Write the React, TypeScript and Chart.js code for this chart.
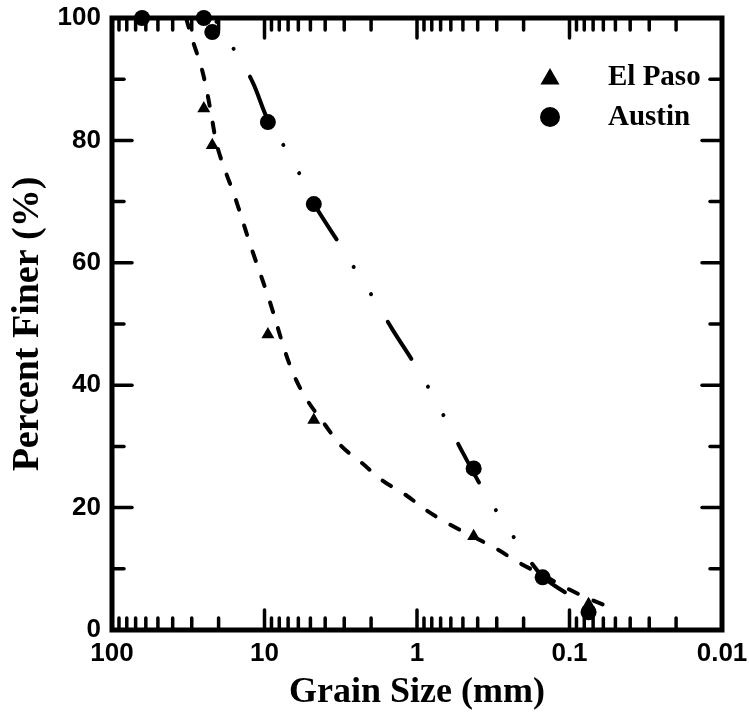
import React, { useEffect, useRef } from "react";
import { Chart, registerables } from "chart.js";

Chart.register(...registerables);

// Axis ticks
const X_TICKS = [100, 10, 1, 0.1, 0.01];
const Y_TICKS = [0, 20, 40, 60, 80, 100];
const Y_MINOR = [10, 30, 50, 70, 90];

// Sieve results: grain size (mm) and percent finer
const EL_PASO_SIZE = [25, 22, 9.5, 4.75, 0.425, 0.15, 0.075];
const EL_PASO_PCT = [85.2, 79.2, 48.3, 34.3, 15.3, 8.4, 4.2];
const AUSTIN_SIZE = [63.5, 25, 22, 9.5, 4.75, 0.425, 0.15, 0.075];
const AUSTIN_PCT = [100, 100, 97.7, 83.0, 69.6, 26.4, 8.6, 2.9];

// Fitted gradation curves
const EL_PASO_FIT_SIZE = [32.7, 29.4, 26.1, 23.8, 22.1, 20.5, 18.2, 15.8, 12.3, 9.3, 7.3, 6.3, 5.2, 4.0, 3.15, 2.3, 1.7, 1.16, 0.873, 0.617, 0.423, 0.294, 0.211, 0.145, 0.102, 0.0711, 0.0503];
const EL_PASO_FIT_PCT = [100, 96.1, 92.2, 87.9, 83.5, 79.2, 75.2, 71.1, 62.7, 53.9, 45.4, 41.2, 37.4, 33.5, 30.1, 27.3, 24.5, 21.9, 19.6, 17.3, 15.2, 13.1, 10.9, 8.8, 6.7, 4.9, 3.4];
const AUSTIN_FIT_SIZE = [21.4, 15.1, 11.9, 9.48, 7.05, 5.59, 4.73, 3.15, 2.44, 1.86, 1.44, 1.016, 0.798, 0.627, 0.499, 0.364, 0.281, 0.211, 0.149, 0.092, 0.063];
const AUSTIN_FIT_PCT = [100, 94.0, 89.4, 83.3, 78.1, 73.4, 69.6, 62.7, 58.2, 53.6, 49.0, 43.1, 38.6, 33.7, 28.9, 22.7, 18.3, 13.7, 8.7, 5.2, 2.9];

const pairs = (xs: number[], ys: number[]) => xs.map((x, i) => ({ x, y: ys[i] }));

const SANS = "'Liberation Sans', Arial, Helvetica, sans-serif";
const SERIF = "'Liberation Serif', 'Times New Roman', serif";

// Boxed frame with inward major/minor ticks on all four sides
const frameAndTicks = {
  id: "frameAndTicks",
  beforeDatasetsDraw(chart: any) {
    const { ctx, chartArea: a, scales } = chart;
    const xs = scales.x;
    const ys = scales.y;
    const MAJOR = 20;
    const MINOR = 12;
    const seg = (x1: number, y1: number, x2: number, y2: number) => {
      ctx.beginPath();
      ctx.moveTo(x1, y1);
      ctx.lineTo(x2, y2);
      ctx.stroke();
    };
    ctx.save();
    ctx.strokeStyle = "#000";
    ctx.lineCap = "round";
    ctx.lineWidth = 3.5;
    for (let e = -2; e <= 1; e++) {
      for (let m = 2; m <= 9; m++) {
        const px = xs.getPixelForValue(m * Math.pow(10, e));
        seg(px, a.bottom, px, a.bottom - MINOR);
        seg(px, a.top, px, a.top + MINOR);
      }
    }
    X_TICKS.forEach((v) => {
      const px = xs.getPixelForValue(v);
      seg(px, a.bottom, px, a.bottom - MAJOR);
      seg(px, a.top, px, a.top + MAJOR);
    });
    Y_MINOR.forEach((v) => {
      const py = ys.getPixelForValue(v);
      seg(a.left, py, a.left + MINOR, py);
      seg(a.right, py, a.right - MINOR, py);
    });
    Y_TICKS.forEach((v) => {
      const py = ys.getPixelForValue(v);
      seg(a.left, py, a.left + MAJOR, py);
      seg(a.right, py, a.right - MAJOR, py);
    });
    ctx.lineWidth = 5;
    ctx.lineCap = "square";
    ctx.lineJoin = "miter";
    ctx.strokeRect(a.left, a.top, a.right - a.left, a.bottom - a.top);
    ctx.restore();
  },
};

// Legend box in the upper right of the plot
const legendBox = {
  id: "legendBox",
  afterDatasetsDraw(chart: any) {
    const { ctx } = chart;
    const items = [
      { label: chart.data.datasets[2].label, shape: "triangle", y: 77 },
      { label: chart.data.datasets[3].label, shape: "circle", y: 117 },
    ];
    ctx.save();
    ctx.fillStyle = "#000";
    ctx.font = `bold 29px ${SERIF}`;
    ctx.textBaseline = "middle";
    ctx.textAlign = "left";
    items.forEach((it) => {
      const cx = 550;
      ctx.beginPath();
      if (it.shape === "triangle") {
        const r = 11;
        for (let k = 0; k < 3; k++) {
          const ang = (k * 2 * Math.PI) / 3;
          const px = cx + Math.sin(ang) * r;
          const py = it.y + 2 - Math.cos(ang) * r;
          if (k === 0) ctx.moveTo(px, py);
          else ctx.lineTo(px, py);
        }
        ctx.closePath();
      } else {
        ctx.arc(cx, it.y, 10, 0, Math.PI * 2);
      }
      ctx.fill();
      ctx.fillText(it.label, 608, it.y + 1);
    });
    ctx.restore();
  },
};

const fmtSize = (v: number) => {
  const s = Number(v).toPrecision(1);
  return String(Number(s));
};

export default function App() {
  const ref = useRef<HTMLCanvasElement>(null);

  useEffect(() => {
    const chart = new Chart(ref.current as HTMLCanvasElement, {
      type: "line",
      data: {
        datasets: [
          {
            label: "El Paso fit",
            data: pairs(EL_PASO_FIT_SIZE, EL_PASO_FIT_PCT),
            borderColor: "#000",
            borderWidth: 4,
            borderDash: [10, 17],
            borderDashOffset: 0,
            borderCapStyle: "round",
            pointRadius: 0,
            tension: 0.35,
            fill: false,
            clip: false,
          } as any,
          {
            label: "Austin fit",
            data: pairs(AUSTIN_FIT_SIZE, AUSTIN_FIT_PCT),
            borderColor: "#000",
            borderWidth: 4,
            borderDash: [44, 32.3, 0.01, 32.3, 0.01, 32.3],
            borderDashOffset: 72,
            borderCapStyle: "round",
            pointRadius: 0,
            tension: 0.35,
            fill: false,
            clip: false,
          } as any,
          {
            label: "El Paso",
            data: pairs(EL_PASO_SIZE, EL_PASO_PCT),
            showLine: false,
            pointStyle: "triangle",
            pointRadius: 7.5,
            pointBackgroundColor: "#000",
            pointBorderWidth: 0,
            clip: false,
          } as any,
          {
            label: "Austin",
            data: pairs(AUSTIN_SIZE, AUSTIN_PCT),
            showLine: false,
            pointStyle: "circle",
            pointRadius: 8,
            pointBackgroundColor: "#000",
            pointBorderWidth: 0,
            clip: false,
          } as any,
        ],
      },
      options: {
        animation: false,
        responsive: true,
        maintainAspectRatio: false,
        events: [],
        layout: { padding: { top: 18, right: 27, bottom: 0, left: 0 } },
        plugins: {
          legend: { display: false },
          tooltip: { enabled: false },
        },
        scales: {
          x: {
            type: "logarithmic",
            min: 0.01,
            max: 100,
            reverse: true,
            afterBuildTicks: (s: any) => {
              s.ticks = X_TICKS.map((v) => ({ value: v }));
            },
            afterFit: (s: any) => {
              s.height = 87;
              s.paddingLeft = 0;
              s.paddingRight = 0;
              s.paddingTop = 0;
              s.paddingBottom = 0;
            },
            ticks: {
              autoSkip: false,
              maxRotation: 0,
              padding: 8,
              color: "#000",
              font: { family: SANS, size: 26, weight: "bold" },
              callback: (v: any) => fmtSize(v),
            },
            grid: { display: false, drawTicks: false },
            border: { display: false },
            title: {
              display: true,
              text: "Grain Size (mm)",
              color: "#000",
              font: { family: SERIF, size: 36, weight: "bold" },
              padding: { top: 0, bottom: 3 },
            },
          },
          y: {
            type: "linear",
            min: 0,
            max: 100,
            afterBuildTicks: (s: any) => {
              s.ticks = Y_TICKS.map((v) => ({ value: v }));
            },
            afterFit: (s: any) => {
              s.width = 112;
              s.paddingLeft = 0;
              s.paddingRight = 0;
              s.paddingTop = 0;
              s.paddingBottom = 0;
            },
            ticks: {
              padding: 11,
              color: "#000",
              font: { family: SANS, size: 26, weight: "bold" },
            },
            grid: { display: false, drawTicks: false },
            border: { display: false },
            title: {
              display: true,
              text: "Percent Finer (%)",
              color: "#000",
              font: { family: SERIF, size: 38, weight: "bold" },
              padding: { top: 5, bottom: 0 },
            },
          },
        },
      } as any,
      plugins: [frameAndTicks, legendBox],
    });
    return () => chart.destroy();
  }, []);

  return (
    <div
      style={{
        position: "fixed",
        left: 0,
        top: 0,
        width: 749,
        height: 717,
        background: "#fff",
      }}
    >
      <canvas ref={ref} />
    </div>
  );
}
